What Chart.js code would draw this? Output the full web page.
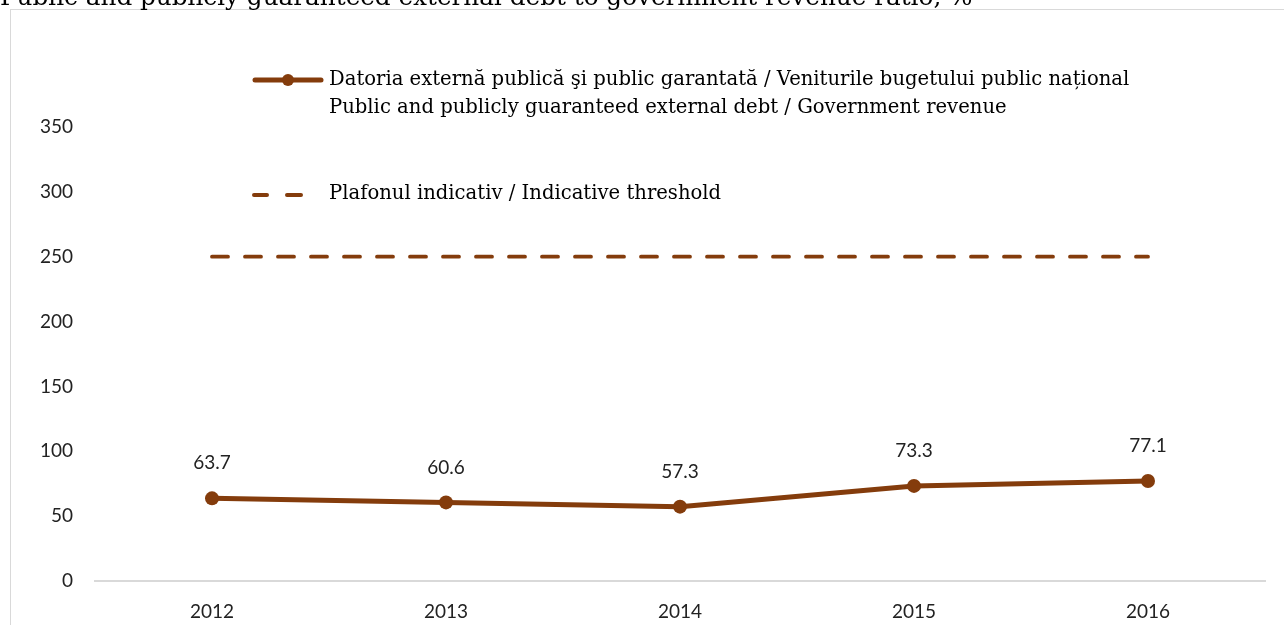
<!DOCTYPE html>
<html>
<head>
<meta charset="utf-8">
<script src="https://cdn.jsdelivr.net/npm/chart.js@4"></script>
<style>
  html, body { margin: 0; padding: 0; background: #fff; overflow: hidden; }
  #wrap { position: relative; width: 1284px; height: 625px; }
  #box { position: absolute; left: 10px; top: 9px; width: 1290px; height: 640px; border: 1.5px solid #d9d9d9; }
  canvas { position: absolute; left: 0; top: 0; }
</style>
</head>
<body>
<div id="wrap">
  <div id="box"></div>
  <canvas id="grafic" width="1284" height="625"></canvas>
</div>
<script>
const ani = ['2012', '2013', '2014', '2015', '2016'];
const datoriaVenituri = [63.7, 60.6, 57.3, 73.3, 77.1]; // % din veniturile bugetului
const plafon = [250, 250, 250, 250, 250];
const titlu = 'Public and publicly guaranteed external debt to government revenue ratio, %';
const legendaSerie = ['Datoria externă publică şi public garantată / Veniturile bugetului public național',
                      'Public and publicly guaranteed external debt / Government revenue'];
const legendaPlafon = 'Plafonul indicativ / Indicative threshold';

const maro = '#843C0C';
const fontTicks = '19px Lato';
const fontSerif = '19.6px "DejaVu Serif"';

// titlul, legenda si etichetele de date se deseneaza direct pe canvas
const desenExtra = {
    id: 'desenExtra',
    afterDraw(chart) {
        const ctx = chart.ctx;
        ctx.save();

        // titlul (taiat sus, ca in original)
        ctx.fillStyle = '#000';
        ctx.font = '24.7px "DejaVu Serif"';
        ctx.textAlign = 'left';
        ctx.textBaseline = 'alphabetic';
        ctx.fillText(titlu, 0, 5);

        // legenda seriei
        ctx.strokeStyle = maro;
        ctx.lineWidth = 5;
        ctx.lineCap = 'round';
        ctx.beginPath();
        ctx.moveTo(255, 80);
        ctx.lineTo(321, 80);
        ctx.stroke();
        ctx.fillStyle = maro;
        ctx.beginPath();
        ctx.arc(288, 80, 6, 0, Math.PI * 2);
        ctx.fill();

        ctx.fillStyle = '#000';
        ctx.font = fontSerif;
        ctx.textBaseline = 'middle';
        ctx.fillText(legendaSerie[0], 329, 80);
        ctx.fillText(legendaSerie[1], 329, 108);

        // legenda plafonului
        ctx.strokeStyle = maro;
        ctx.lineWidth = 4;
        ctx.beginPath();
        ctx.moveTo(254, 195); ctx.lineTo(267, 195);
        ctx.moveTo(287, 195); ctx.lineTo(301, 195);
        ctx.stroke();
        ctx.fillText(legendaPlafon, 329, 194);

        // etichete de date
        const meta = chart.getDatasetMeta(0);
        ctx.font = fontTicks;
        ctx.fillStyle = '#222';
        ctx.textAlign = 'center';
        meta.data.forEach((p, i) => {
            ctx.fillText(datoriaVenituri[i].toFixed(1), p.x, p.y - 35);
        });
        ctx.restore();
    }
};

const grafic = new Chart(document.getElementById('grafic').getContext('2d'), {
    type: 'line',
    data: {
        labels: ani,
        datasets: [{
            label: legendaSerie[0],
            data: datoriaVenituri,
            borderColor: maro,
            backgroundColor: maro,
            borderWidth: 5,
            pointRadius: 7,
            pointHoverRadius: 7,
            pointBackgroundColor: maro,
            pointBorderWidth: 0,
            tension: 0,
            order: 1
        }, {
            label: legendaPlafon,
            data: plafon,
            borderColor: maro,
            borderWidth: 3.8,
            borderDash: [16, 17],
            borderCapStyle: 'round',
            pointRadius: 0,
            tension: 0,
            order: 2
        }]
    },
    options: {
        responsive: false,
        animation: false,
        layout: { padding: { left: 0, right: 19, top: 127, bottom: 0 } },
        plugins: {
            legend: { display: false },
            tooltip: { enabled: false }
        },
        scales: {
            x: {
                offset: true,
                grid: { display: false, drawTicks: false },
                border: { display: true, color: '#d9d9d9', width: 2 },
                ticks: { color: '#222', font: { family: 'Lato', size: 19 }, padding: 19 },
                afterFit(s) { s.height = 44; }
            },
            y: {
                min: 0,
                max: 350,
                grid: { display: false, drawTicks: false },
                border: { display: false },
                ticks: { stepSize: 50, color: '#222', font: { family: 'Lato', size: 19 }, padding: 22 },
                afterFit(s) { s.width = 95; }
            }
        }
    },
    plugins: [desenExtra]
});
</script>
</body>
</html>
